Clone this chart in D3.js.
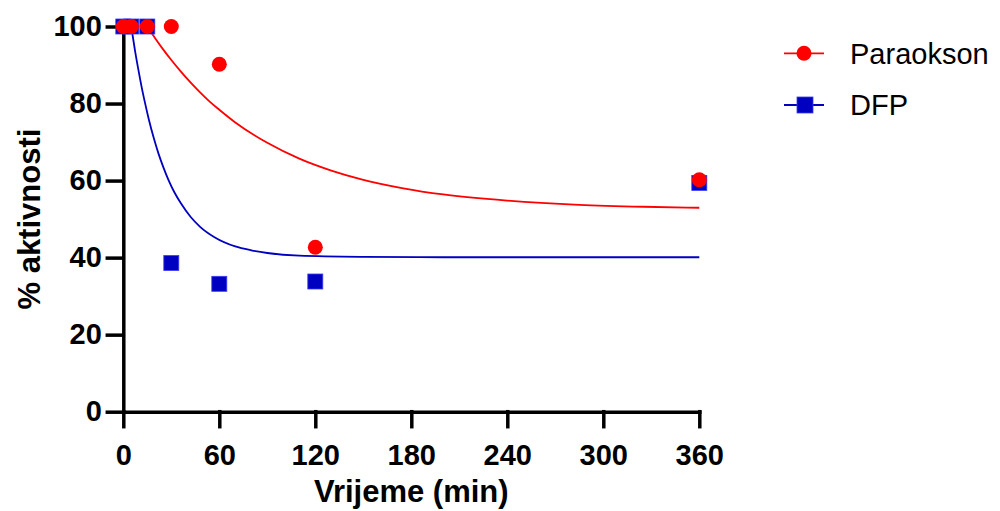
<!DOCTYPE html>
<html>
<head>
<meta charset="utf-8">
<title>Paraokson / DFP</title>
<script src="https://d3js.org/d3.v7.min.js"></script>
<style>
body { margin: 0; background: #fff; }
svg { display: block; font-family: Arial, "Liberation Sans", sans-serif; }
.axis path, .axis line { stroke: #000; stroke-width: 3.5; stroke-linecap: square; }
.axis text { font-size: 29px; font-weight: bold; fill: #000; font-family: Arial, "Liberation Sans", sans-serif; }
.title { font-size: 31px; font-weight: bold; }
.legend text { font-size: 29px; }
</style>
</head>
<body>
<svg width="1000" height="511"></svg>
<script>

// measured points
var times = [0, 5, 15, 30, 60, 120, 360];
var paraokson = [100, 100, 100, 100, 90.2, 42.7, 60.2];
var dfp = [100, 100, 100, 38.6, 33.2, 33.8, 59.4];

// fitted curves
var paraoksonFitT = [15, 20, 25, 30, 36, 42, 48, 54, 60, 70, 90, 110, 130, 150, 175, 200, 240, 285, 325, 360];
var paraoksonFitY = [100, 96.9, 94, 91.3, 88.3, 85.5, 82.9, 80.5, 78.4, 75.1, 69.8, 65.7, 62.6, 60.2, 58, 56.4, 54.8, 53.7, 53.2, 52.95];
var dfpFitT = [5, 7.5, 9.5, 11.5, 13.5, 16, 19, 22, 25, 28, 32, 36, 42, 48, 57, 70, 80, 90, 110, 150, 200, 360];
var dfpFitY = [100, 93.3, 88.6, 84.2, 80.3, 75.8, 71.1, 67, 63.5, 60.4, 56.9, 54.1, 50.6, 48, 45.3, 42.9, 41.9, 41.2, 40.5, 40.2, 40.1, 40.1];

var xTicks = [0, 60, 120, 180, 240, 300, 360];
var yTicks = [0, 20, 40, 60, 80, 100];
var seriesNames = ["Paraokson", "DFP"];

var red = "#ff0000", blue = "#0000c0";

var svg = d3.select("svg");

var x = d3.scaleLinear().domain([0, 360]).range([123.3, 699.3]);
var y = d3.scaleLinear().domain([0, 100]).range([411.7, 26.5]);

// axes
var gx = svg.append("g")
    .attr("class", "axis")
    .attr("transform", "translate(0," + y(0) + ")")
    .call(d3.axisBottom(x).tickValues(xTicks).tickSize(15).tickSizeOuter(0));
gx.selectAll("text").attr("dy", null).attr("y", 53.3);

var gy = svg.append("g")
    .attr("class", "axis")
    .attr("transform", "translate(" + x(0) + ",0)")
    .call(d3.axisLeft(y).tickValues(yTicks).tickSize(16).tickSizeOuter(0));
gy.selectAll("text").attr("x", -21.5);

svg.append("text")
    .attr("class", "title")
    .attr("x", (x(0) + x(360)) / 2)
    .attr("y", 502)
    .attr("text-anchor", "middle")
    .text("Vrijeme (min)");

svg.append("text")
    .attr("class", "title")
    .attr("transform", "translate(40," + ((y(0) + y(100)) / 2) + ") rotate(-90)")
    .attr("text-anchor", "middle")
    .text("% aktivnosti");

// fitted curves
var line = d3.line()
    .x(function(d) { return x(d[0]); })
    .y(function(d) { return y(d[1]); })
    .curve(d3.curveMonotoneX);

svg.append("path")
    .datum(d3.zip(dfpFitT, dfpFitY))
    .attr("d", line)
    .attr("fill", "none")
    .attr("stroke", blue)
    .attr("stroke-width", 1.8);

svg.append("path")
    .datum(d3.zip(paraoksonFitT, paraoksonFitY))
    .attr("d", line)
    .attr("fill", "none")
    .attr("stroke", red)
    .attr("stroke-width", 1.8);

// markers
var sq = 15;
svg.selectAll("rect.dfp")
    .data(d3.zip(times, dfp))
    .enter().append("rect")
    .attr("class", "dfp")
    .attr("x", function(d) { return x(d[0]) - sq / 2; })
    .attr("y", function(d) { return y(d[1]) - sq / 2; })
    .attr("width", sq)
    .attr("height", sq)
    .attr("fill", blue)
    .attr("stroke", "#3c3cf0")
    .attr("stroke-width", 0.8);

svg.selectAll("circle.par")
    .data(d3.zip(times, paraokson))
    .enter().append("circle")
    .attr("class", "par")
    .attr("cx", function(d) { return x(d[0]); })
    .attr("cy", function(d) { return y(d[1]); })
    .attr("r", 7.5)
    .attr("fill", red);

// legend
var legend = svg.append("g").attr("class", "legend");
var rows = [{ name: seriesNames[0], color: red, cy: 53.3 }, { name: seriesNames[1], color: blue, cy: 105 }];

rows.forEach(function(r, i) {
  legend.append("line")
      .attr("x1", 784).attr("x2", 824)
      .attr("y1", r.cy).attr("y2", r.cy)
      .attr("stroke", r.color)
      .attr("stroke-width", 1.8);
  if (i === 0) {
    legend.append("circle")
        .attr("cx", 804).attr("cy", r.cy).attr("r", 7.5)
        .attr("fill", r.color);
  } else {
    legend.append("rect")
        .attr("x", 805 - 8).attr("y", r.cy - 8)
        .attr("width", 16).attr("height", 16)
        .attr("fill", r.color)
        .attr("stroke", "#3c3cf0")
        .attr("stroke-width", 0.8);
  }
  legend.append("text")
      .attr("x", 850)
      .attr("y", r.cy + 10.3)
      .text(r.name);
});

</script>
</body>
</html>
